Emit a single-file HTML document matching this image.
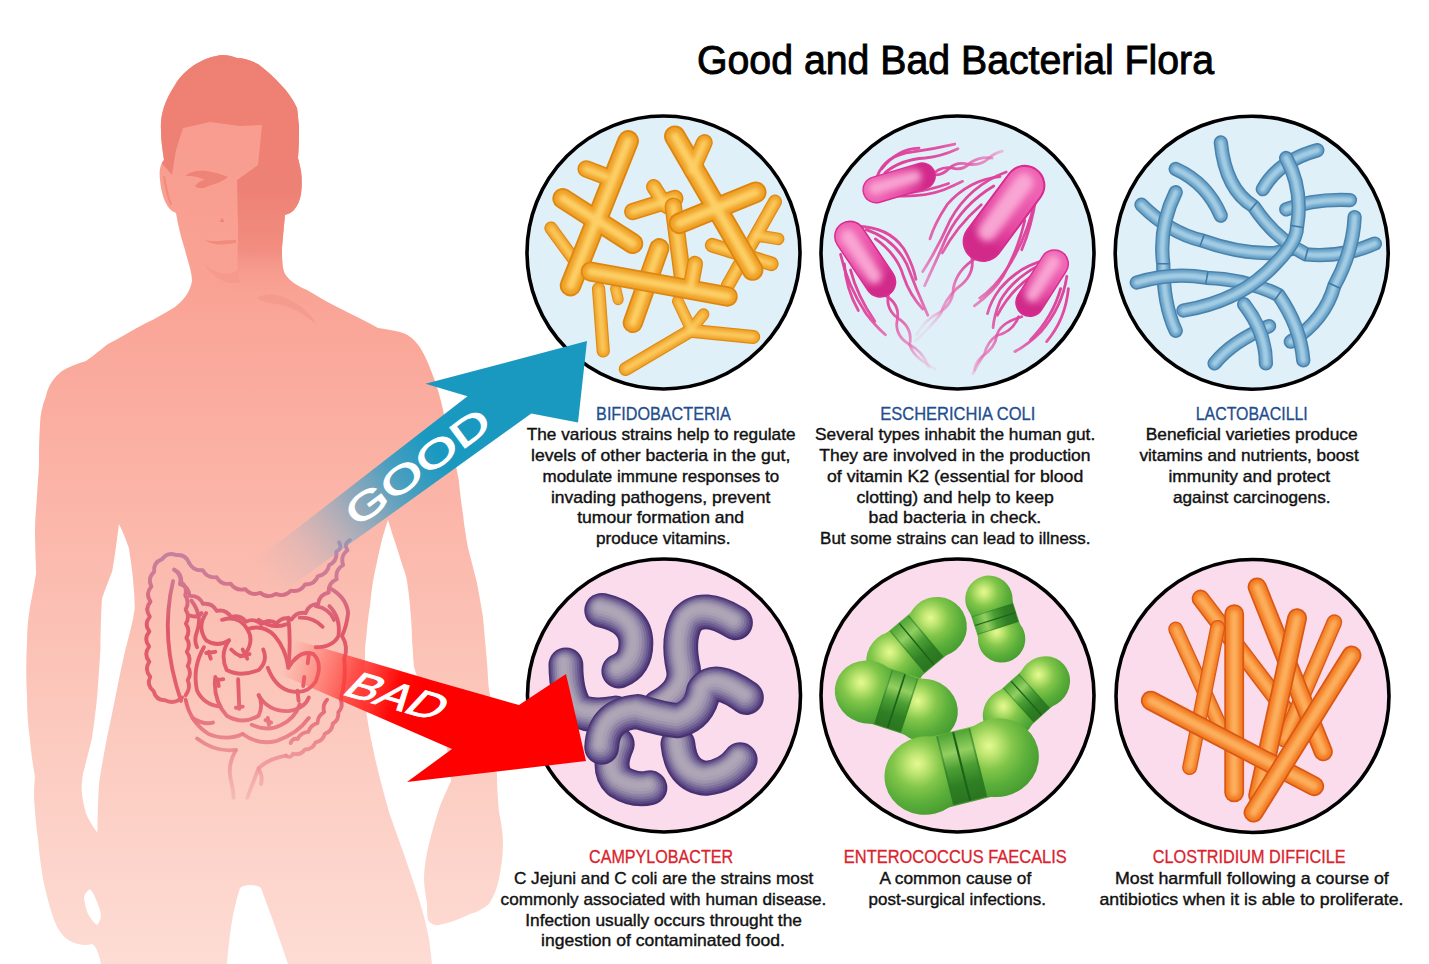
<!DOCTYPE html>
<html><head><meta charset="utf-8"><title>Good and Bad Bacterial Flora</title>
<style>
html,body{margin:0;padding:0;background:#fff;}
body{width:1429px;height:964px;overflow:hidden;font-family:"Liberation Sans",sans-serif;}
svg{display:block;}
text{font-family:"Liberation Sans",sans-serif;}
</style></head><body>
<svg width="1429" height="964" viewBox="0 0 1429 964">
<defs>

<linearGradient id="bodyg" x1="0" y1="55" x2="0" y2="964" gradientUnits="userSpaceOnUse">
 <stop offset="0" stop-color="#f79a8c"/>
 <stop offset="0.25" stop-color="#f9a294"/>
 <stop offset="0.5" stop-color="#fbb6a9"/>
 <stop offset="0.75" stop-color="#fccabf"/>
 <stop offset="1" stop-color="#fddcd4"/>
</linearGradient>
<linearGradient id="hairg" x1="0" y1="55" x2="0" y2="300" gradientUnits="userSpaceOnUse">
 <stop offset="0" stop-color="#ee7f73"/>
 <stop offset="0.55" stop-color="#ee8175"/>
 <stop offset="0.8" stop-color="#f28e81" />
 <stop offset="1" stop-color="#f9a294" stop-opacity="0"/>
</linearGradient>
<clipPath id="bodyclip"><path d=" M 223,55 C 205,56 185,68 175,85 C 165,100 160,115 161,130 C 161,142 163,152 164,160 C 160,164 159,172 160,180 C 161,192 165,206 172,211 L 176,213 C 178,225 181,238 185,250 C 188,262 192,272 192,281 C 190,292 184,300 175,307 C 165,313 155,319 146,323 C 132,330 120,338 108,344 C 100,350 92,357 86,361 C 76,364 68,367 62,371 C 54,377 48,386 46,396 C 42,406 40,416 40,425 C 39,440 39,452 39,466 C 38,480 37,495 36,510 C 35,520 35,528 35,534 C 35,548 36,562 36,574 C 34,586 32,596 30,607 C 28,618 27,630 27,642 C 26,660 26,680 27,696 C 27,712 28,726 30,740 C 31,752 33,766 35,777 C 34,786 34,792 34,798 C 35,812 36,826 38,839 C 39,853 41,866 43,879 C 46,894 50,908 54,920 C 58,930 63,937 70,941 C 78,945 86,946 92,944 C 96,946 99,954 101,964 L 227,964 C 229,940 232,912 240,888 C 244,884 257,884 261,888 C 270,912 280,940 288,964 L 432,964 C 431,955 430,946 429,939 C 427,928 424,916 421,906 C 417,892 412,878 408,866 C 402,848 395,830 389,812 C 384,794 379,776 375,758 C 372,744 369,730 367,717 C 365,700 364,680 365,656 C 365,650 365,645 366,640 C 367,628 368,617 370,606 C 371,596 372,586 374,576 C 376,566 378,557 380,548 C 382,538 385,529 388,520 C 391,530 394,539 397,548 C 400,558 403,567 406,576 C 408,586 409,596 410,606 C 411,618 412,629 412,640 C 413,650 413,659 414,667 C 424,700 436,722 446,743 C 448,756 450,768 451,781 C 447,790 443,798 440,806 C 436,818 432,831 429,844 C 426,856 424,868 424,879 C 424,888 426,896 427,904 C 427,910 427,915 428,920 C 432,926 438,926 443,924 C 452,922 462,918 470,914 C 478,912 484,908 489,904 C 494,896 497,888 499,879 C 501,868 503,856 503,844 C 503,832 501,822 499,812 C 498,800 497,788 497,777 C 496,752 494,726 491,700 C 490,695 489,690 488.4,685 C 488,674 487,662 486,651 C 485,640 484,628 483,617 C 481,605 479,594 477,583 C 474,571 471,559 468,548 C 466,537 464,525 463,514 C 461,502 460,491 458.7,480 C 456,463 451,446 447,430 C 444,412 440,396 436,384 C 434,378 432,373 430,368 C 427,360 423,352 419,346 C 414,339 408,334 400,332 C 392,330 385,329 378,328 C 368,322 357,317 347,312 C 333,305 320,298 307,290 C 298,286 290,282 285,274 C 282,268 282,258 282,248 C 283,236 284,225 285,215 C 289,214 292,212 294,210 C 298,205 300,200 301,194 C 302,186 302,178 301,171 C 300,166 299,162 298,158 C 299,147 299,136 299,126 C 298,119 298,113 297,108 C 293,99 287,91 281,85 C 274,77 266,70 258,64 C 250,60 243,58 237,58 C 232,56 227,55 223,55 Z "/></clipPath>


<linearGradient id="gutg" x1="0" y1="0" x2="0" y2="1180" gradientUnits="userSpaceOnUse">
 <stop offset="0" stop-color="#bd84a4"/>
 <stop offset="0.14" stop-color="#d07a94"/>
 <stop offset="0.32" stop-color="#e0586a"/>
 <stop offset="0.58" stop-color="#e3606e"/>
 <stop offset="0.76" stop-color="#ea868c" stop-opacity="0.92"/>
 <stop offset="1" stop-color="#f2aaa8" stop-opacity="0.4"/>
</linearGradient>

<clipPath id="cc1"><circle cx="663.5" cy="252.5" r="136.5"/></clipPath>
<clipPath id="cc2"><circle cx="957.5" cy="252.5" r="136.5"/></clipPath>
<clipPath id="cc3"><circle cx="1251.7" cy="252.7" r="136.5"/></clipPath>
<clipPath id="cc4"><circle cx="664" cy="695.5" r="136.5"/></clipPath>
<clipPath id="cc5"><circle cx="957.5" cy="695.5" r="136.5"/></clipPath>
<clipPath id="cc6"><circle cx="1252.5" cy="696" r="136.5"/></clipPath>
<filter id="bl2" filterUnits="userSpaceOnUse" x="-50" y="-50" width="1100" height="1100"><feGaussianBlur stdDeviation="2.2"/></filter>
<filter id="bl4" filterUnits="userSpaceOnUse" x="-50" y="-50" width="1100" height="1100"><feGaussianBlur stdDeviation="4"/></filter>
<filter id="bl6" filterUnits="userSpaceOnUse" x="-50" y="-50" width="1100" height="1100"><feGaussianBlur stdDeviation="6"/></filter>
<filter id="bl8" filterUnits="userSpaceOnUse" x="-50" y="-50" width="1100" height="1100"><feGaussianBlur stdDeviation="8"/></filter>
<filter id="bl12" filterUnits="userSpaceOnUse" x="-50" y="-50" width="1100" height="1100"><feGaussianBlur stdDeviation="12"/></filter>
<radialGradient id="flg0" cx="296" cy="260" r="391" gradientUnits="userSpaceOnUse"><stop offset="0" stop-color="#dd3b98"/><stop offset="0.45" stop-color="#e04a9f" stop-opacity="0.95"/><stop offset="0.8" stop-color="#e968b0" stop-opacity="0.6"/><stop offset="1" stop-color="#f08cc4" stop-opacity="0.15"/></radialGradient>
<linearGradient id="rodg0" x1="222" y1="282" x2="370" y2="238" gradientUnits="userSpaceOnUse"><stop offset="0" stop-color="#ef62b2"/><stop offset="0.6" stop-color="#e64aa3"/><stop offset="1" stop-color="#d22a8a"/></linearGradient>
<radialGradient id="flg1" cx="187" cy="505" r="409" gradientUnits="userSpaceOnUse"><stop offset="0" stop-color="#dd3b98"/><stop offset="0.45" stop-color="#e04a9f" stop-opacity="0.95"/><stop offset="0.8" stop-color="#e968b0" stop-opacity="0.6"/><stop offset="1" stop-color="#f08cc4" stop-opacity="0.15"/></radialGradient>
<linearGradient id="rodg1" x1="138" y1="432" x2="236" y2="578" gradientUnits="userSpaceOnUse"><stop offset="0" stop-color="#ef62b2"/><stop offset="0.6" stop-color="#e64aa3"/><stop offset="1" stop-color="#d22a8a"/></linearGradient>
<radialGradient id="flg2" cx="633" cy="358" r="448" gradientUnits="userSpaceOnUse"><stop offset="0" stop-color="#dd3b98"/><stop offset="0.45" stop-color="#e04a9f" stop-opacity="0.95"/><stop offset="0.8" stop-color="#e968b0" stop-opacity="0.6"/><stop offset="1" stop-color="#f08cc4" stop-opacity="0.15"/></radialGradient>
<linearGradient id="rodg2" x1="700" y1="268" x2="566" y2="448" gradientUnits="userSpaceOnUse"><stop offset="0" stop-color="#ef62b2"/><stop offset="0.6" stop-color="#e64aa3"/><stop offset="1" stop-color="#d22a8a"/></linearGradient>
<radialGradient id="flg3" cx="756" cy="582" r="391" gradientUnits="userSpaceOnUse"><stop offset="0" stop-color="#dd3b98"/><stop offset="0.45" stop-color="#e04a9f" stop-opacity="0.95"/><stop offset="0.8" stop-color="#e968b0" stop-opacity="0.6"/><stop offset="1" stop-color="#f08cc4" stop-opacity="0.15"/></radialGradient>
<linearGradient id="rodg3" x1="795" y1="520" x2="716" y2="644" gradientUnits="userSpaceOnUse"><stop offset="0" stop-color="#ef62b2"/><stop offset="0.6" stop-color="#e64aa3"/><stop offset="1" stop-color="#d22a8a"/></linearGradient>
<linearGradient id="bandA" x1="0" y1="0" x2="0" y2="1">
<stop offset="0" stop-color="#4fa436"/><stop offset="0.28" stop-color="#93cf60"/><stop offset="0.5" stop-color="#4c9f34"/><stop offset="0.75" stop-color="#2f7f24"/><stop offset="1" stop-color="#2a7520"/></linearGradient>
<linearGradient id="bandB" x1="0" y1="1" x2="0" y2="0">
<stop offset="0" stop-color="#4fa436"/><stop offset="0.28" stop-color="#93cf60"/><stop offset="0.5" stop-color="#4c9f34"/><stop offset="0.75" stop-color="#2f7f24"/><stop offset="1" stop-color="#2a7520"/></linearGradient>
<radialGradient id="eng1_0" gradientUnits="userSpaceOnUse" cx="-94.0" cy="9.0" r="110.2"><stop offset="0" stop-color="#e6f994"/><stop offset="0.14" stop-color="#c8eb78"/><stop offset="0.42" stop-color="#82c64a"/><stop offset="0.7" stop-color="#5aae3a"/><stop offset="1" stop-color="#43992e"/></radialGradient>
<radialGradient id="eng1_1" gradientUnits="userSpaceOnUse" cx="40.4" cy="9.0" r="110.2"><stop offset="0" stop-color="#e6f994"/><stop offset="0.14" stop-color="#c8eb78"/><stop offset="0.42" stop-color="#82c64a"/><stop offset="0.7" stop-color="#5aae3a"/><stop offset="1" stop-color="#43992e"/></radialGradient>
<radialGradient id="eng2_0" gradientUnits="userSpaceOnUse" cx="-83.2" cy="-35.6" r="139.2"><stop offset="0" stop-color="#e6f994"/><stop offset="0.14" stop-color="#c8eb78"/><stop offset="0.42" stop-color="#82c64a"/><stop offset="0.7" stop-color="#5aae3a"/><stop offset="1" stop-color="#43992e"/></radialGradient>
<radialGradient id="eng2_1" gradientUnits="userSpaceOnUse" cx="87.9" cy="-35.6" r="139.2"><stop offset="0" stop-color="#e6f994"/><stop offset="0.14" stop-color="#c8eb78"/><stop offset="0.42" stop-color="#82c64a"/><stop offset="0.7" stop-color="#5aae3a"/><stop offset="1" stop-color="#43992e"/></radialGradient>
<radialGradient id="eng3_0" gradientUnits="userSpaceOnUse" cx="-73.1" cy="-30.0" r="117.5"><stop offset="0" stop-color="#e6f994"/><stop offset="0.14" stop-color="#c8eb78"/><stop offset="0.42" stop-color="#82c64a"/><stop offset="0.7" stop-color="#5aae3a"/><stop offset="1" stop-color="#43992e"/></radialGradient>
<radialGradient id="eng3_1" gradientUnits="userSpaceOnUse" cx="79.2" cy="-30.0" r="117.5"><stop offset="0" stop-color="#e6f994"/><stop offset="0.14" stop-color="#c8eb78"/><stop offset="0.42" stop-color="#82c64a"/><stop offset="0.7" stop-color="#5aae3a"/><stop offset="1" stop-color="#43992e"/></radialGradient>
<radialGradient id="eng4_0" gradientUnits="userSpaceOnUse" cx="-125.9" cy="-22.0" r="146.4"><stop offset="0" stop-color="#e6f994"/><stop offset="0.14" stop-color="#c8eb78"/><stop offset="0.42" stop-color="#82c64a"/><stop offset="0.7" stop-color="#5aae3a"/><stop offset="1" stop-color="#43992e"/></radialGradient>
<radialGradient id="eng4_1" gradientUnits="userSpaceOnUse" cx="64.9" cy="-22.0" r="146.4"><stop offset="0" stop-color="#e6f994"/><stop offset="0.14" stop-color="#c8eb78"/><stop offset="0.42" stop-color="#82c64a"/><stop offset="0.7" stop-color="#5aae3a"/><stop offset="1" stop-color="#43992e"/></radialGradient>
<radialGradient id="eng5_0" gradientUnits="userSpaceOnUse" cx="-136.2" cy="-43.4" r="182.7"><stop offset="0" stop-color="#e6f994"/><stop offset="0.14" stop-color="#c8eb78"/><stop offset="0.42" stop-color="#82c64a"/><stop offset="0.7" stop-color="#5aae3a"/><stop offset="1" stop-color="#43992e"/></radialGradient>
<radialGradient id="eng5_1" gradientUnits="userSpaceOnUse" cx="100.7" cy="-43.4" r="182.7"><stop offset="0" stop-color="#e6f994"/><stop offset="0.14" stop-color="#c8eb78"/><stop offset="0.42" stop-color="#82c64a"/><stop offset="0.7" stop-color="#5aae3a"/><stop offset="1" stop-color="#43992e"/></radialGradient>

<linearGradient id="goodg" x1="252" y1="589" x2="476.6" y2="421.6" gradientUnits="userSpaceOnUse">
 <stop offset="0.06" stop-color="#9fb2c8" stop-opacity="0"/>
 <stop offset="0.23" stop-color="#8fafc9" stop-opacity="0.2"/>
 <stop offset="0.46" stop-color="#5fa3c4" stop-opacity="0.62"/>
 <stop offset="0.66" stop-color="#349cc2" stop-opacity="0.9"/>
 <stop offset="0.82" stop-color="#1a99c0" stop-opacity="1"/>
 <stop offset="1" stop-color="#1a99c0"/>
</linearGradient>
<linearGradient id="badg" x1="280" y1="655" x2="554" y2="750" gradientUnits="userSpaceOnUse">
 <stop offset="0.02" stop-color="#ff6a60" stop-opacity="0"/>
 <stop offset="0.15" stop-color="#ff5048" stop-opacity="0.5"/>
 <stop offset="0.26" stop-color="#ff3832" stop-opacity="0.82"/>
 <stop offset="0.42" stop-color="#ff0806" stop-opacity="1"/>
 <stop offset="0.5" stop-color="#ff0000"/>
 <stop offset="1" stop-color="#ff0000"/>
</linearGradient>


</defs>
<rect width="1429" height="964" fill="#fff"/>
<g id="body">
<path d=" M 223,55 C 205,56 185,68 175,85 C 165,100 160,115 161,130 C 161,142 163,152 164,160 C 160,164 159,172 160,180 C 161,192 165,206 172,211 L 176,213 C 178,225 181,238 185,250 C 188,262 192,272 192,281 C 190,292 184,300 175,307 C 165,313 155,319 146,323 C 132,330 120,338 108,344 C 100,350 92,357 86,361 C 76,364 68,367 62,371 C 54,377 48,386 46,396 C 42,406 40,416 40,425 C 39,440 39,452 39,466 C 38,480 37,495 36,510 C 35,520 35,528 35,534 C 35,548 36,562 36,574 C 34,586 32,596 30,607 C 28,618 27,630 27,642 C 26,660 26,680 27,696 C 27,712 28,726 30,740 C 31,752 33,766 35,777 C 34,786 34,792 34,798 C 35,812 36,826 38,839 C 39,853 41,866 43,879 C 46,894 50,908 54,920 C 58,930 63,937 70,941 C 78,945 86,946 92,944 C 96,946 99,954 101,964 L 227,964 C 229,940 232,912 240,888 C 244,884 257,884 261,888 C 270,912 280,940 288,964 L 432,964 C 431,955 430,946 429,939 C 427,928 424,916 421,906 C 417,892 412,878 408,866 C 402,848 395,830 389,812 C 384,794 379,776 375,758 C 372,744 369,730 367,717 C 365,700 364,680 365,656 C 365,650 365,645 366,640 C 367,628 368,617 370,606 C 371,596 372,586 374,576 C 376,566 378,557 380,548 C 382,538 385,529 388,520 C 391,530 394,539 397,548 C 400,558 403,567 406,576 C 408,586 409,596 410,606 C 411,618 412,629 412,640 C 413,650 413,659 414,667 C 424,700 436,722 446,743 C 448,756 450,768 451,781 C 447,790 443,798 440,806 C 436,818 432,831 429,844 C 426,856 424,868 424,879 C 424,888 426,896 427,904 C 427,910 427,915 428,920 C 432,926 438,926 443,924 C 452,922 462,918 470,914 C 478,912 484,908 489,904 C 494,896 497,888 499,879 C 501,868 503,856 503,844 C 503,832 501,822 499,812 C 498,800 497,788 497,777 C 496,752 494,726 491,700 C 490,695 489,690 488.4,685 C 488,674 487,662 486,651 C 485,640 484,628 483,617 C 481,605 479,594 477,583 C 474,571 471,559 468,548 C 466,537 464,525 463,514 C 461,502 460,491 458.7,480 C 456,463 451,446 447,430 C 444,412 440,396 436,384 C 434,378 432,373 430,368 C 427,360 423,352 419,346 C 414,339 408,334 400,332 C 392,330 385,329 378,328 C 368,322 357,317 347,312 C 333,305 320,298 307,290 C 298,286 290,282 285,274 C 282,268 282,258 282,248 C 283,236 284,225 285,215 C 289,214 292,212 294,210 C 298,205 300,200 301,194 C 302,186 302,178 301,171 C 300,166 299,162 298,158 C 299,147 299,136 299,126 C 298,119 298,113 297,108 C 293,99 287,91 281,85 C 274,77 266,70 258,64 C 250,60 243,58 237,58 C 232,56 227,55 223,55 Z " fill="url(#bodyg)"/>
<path d=" M 119,524 C 123,532 126,540 129,548.6 C 132,568 134.5,588 134.8,608 C 133,622 129,636 125.4,649.5 C 122,664 119,679 116,694 C 113,709 110,724 106.7,739 C 104,754 101,769 99,784 C 98,800 97.6,816 97.4,832.7 C 93,827 89,821 86.2,814 C 84,807 82.5,799 81.7,791.6 C 81.5,785 82,779 83.2,773 C 86,762 89,750 91.8,739 C 94,724 96,709 97.4,694 C 98.5,679 99.5,664 100.4,649.5 C 100.5,632 101,615 101.9,599 C 105,589 109,580 112.3,571 C 115,555 117,539 119,524 Z " fill="#fff"/>
<path d="M 90,889 C 86,892 84,895 84,898 C 85,904 86,909 88,914 C 91,919 94,923 97,925 C 100,922 101,918 101,914 C 99,906 96,899 93,893 Z" fill="#fff"/>
<g clip-path="url(#bodyclip)">
<path d="M 150,40 L 320,40 L 320,215 L 300,290 L 237,290 L 238,230 L 237,180 L 258,165 L 262,125 L 240,126 L 210,122 L 183,128 L 176,150 L 172,175 L 166,168 L 150,150 Z" fill="url(#hairg)"/>
<path d="M 185,176 C 195,168 210,170 228,177 C 222,182 215,184 208,186 C 204,189 198,189 195,186 C 198,182 202,180 205,180 C 198,176 190,176 185,176 Z" fill="#ee8377"/>
<path d="M 164,177 C 166,186 167,196 171,204" fill="none" stroke="#f08b7e" stroke-width="2" stroke-linecap="round"/>
<path d="M 220,222 C 221,218 223,216 224,222 Z" fill="#ee8377"/>
<path d="M 204,239 C 212,243 222,240 236,240 L 236,243 C 222,245 212,246 204,239 Z" fill="#f08b7e"/>
<path d="M 204,264 C 214,272 226,278 237,270 L 240,282 C 226,286 214,278 204,264 Z" fill="#f3948a" opacity="0.6"/>
<path d="M 257,298 C 270,290 285,296 300,306 C 308,312 314,318 316,324 C 308,318 298,310 286,306 C 276,303 266,304 257,298 Z" fill="#f29488" opacity="0.55"/>
</g>
</g>
<g transform="translate(140,540) scale(0.2282)" fill="none" stroke="url(#gutg)" stroke-width="17" stroke-linecap="round" stroke-linejoin="round">
<path d="M 215,100 Q 200,61 158,66 Q 121,50 97,84 Q 58,98 62,139 Q 31,167 50,204 Q 22,235 46,270 Q 19,301 43,336 Q 16,368 41,401 Q 14,434 40,467 Q 14,501 41,533 Q 17,568 45,599 Q 27,637 60,663 Q 69,703 110,702 Q 152,722 185,690"/>
<path d="M 150,130 Q 183,147 181,184 Q 209,207 198,243 Q 219,273 200,305 Q 220,335 201,367 Q 222,397 203,429 Q 224,459 205,490 Q 227,520 209,552 Q 229,583 209,614 Q 224,650 200,680"/>
<path d="M 145,180 Q 85,430 180,705"/>
<path d="M 215,100 Q 234,137 275,132 Q 295,169 336,163 Q 357,199 397,191 Q 421,225 461,215 Q 488,247 527,231 Q 559,258 595,236 Q 633,252 661,222 Q 702,230 723,195 Q 765,197 780,158 Q 821,151 829,110 Q 866,92 860,51 Q 889,37 872,10"/>
<path d="M 150,130 Q 185,153 175,193 Q 215,204 217,245 Q 259,242 276,280 Q 317,274 336,311 Q 377,302 399,338 Q 439,325 464,358 Q 501,340 531,369 Q 563,343 599,365 Q 626,333 665,348 Q 685,312 726,320 Q 739,281 781,280 Q 786,239 827,230 Q 824,188 862,172 Q 854,131 890,110 Q 877,70 909,45 Q 891,17 920,0"/>
<path d="M 880,700 Q 892,731 869,755 Q 873,788 845,805 Q 842,838 810,849 Q 802,881 769,887 Q 756,918 723,918 Q 703,945 671,937 Q 660,959 640,945"/>
<path d="M 820,700 Q 798,723 807,754 Q 779,770 778,802 Q 747,810 738,841 Q 706,843 691,872 Q 668,867 660,890"/>
<path d="M 830,210 Q 905,250 912,320 Q 905,380 885,420 Q 915,470 895,520 Q 905,600 880,700"/>
<path d="M 770,290 Q 830,300 850,350"/>
<path d="M 830,290 Q 880,340 870,420 Q 845,470 770,470"/>
<path d="M 225,265 Q 275,330 250,400 Q 235,440 250,470"/>
<path d="M 215,330 Q 250,345 270,320"/>
<path d="M 290,320 Q 248,380 290,440 Q 340,472 390,440"/>
<path d="M 360,350 Q 432,328 470,390 Q 502,440 462,500 Q 440,522 400,480"/>
<path d="M 390,440 Q 348,500 380,570 Q 440,602 520,570 Q 562,530 540,480"/>
<path d="M 470,390 Q 542,368 590,420 Q 640,480 650,560 Q 700,478 760,500 Q 802,540 770,620 Q 730,682 650,660 Q 590,640 560,560"/>
<path d="M 520,350 Q 580,392 640,370"/>
<path d="M 650,340 Q 662,450 650,560"/>
<path d="M 700,340 Q 762,338 800,380"/>
<path d="M 280,470 Q 228,560 250,660 Q 280,722 350,730"/>
<path d="M 300,490 L 310,520 M 290,495 L 330,490"/>
<path d="M 330,600 Q 318,700 380,770 Q 450,812 520,770 Q 542,720 520,680"/>
<path d="M 340,610 L 345,640 M 330,615 L 365,610"/>
<path d="M 430,610 L 435,740 M 420,735 L 450,730"/>
<path d="M 520,680 Q 560,752 650,750 Q 722,740 740,690"/>
<path d="M 690,660 L 695,705"/>
<path d="M 200,700 Q 220,800 300,850 Q 380,882 450,850"/>
<path d="M 230,780 Q 280,812 320,800"/>
<path d="M 450,850 Q 520,902 600,880 Q 690,850 740,780"/>
<path d="M 490,810 Q 560,842 620,810 Q 680,780 700,720"/>
<path d="M 550,790 L 575,800 M 560,780 L 565,810"/>
<path d="M 250,870 Q 330,932 420,920"/>
<path d="M 450,480 L 470,520 M 440,510 L 480,500"/>
<path d="M 740,500 L 735,540 M 720,600 L 715,640"/>
<path d="M 420,920 Q 380,990 400,1060 Q 410,1100 410,1130"/>
<path d="M 640,945 Q 560,960 520,1000 Q 500,1050 470,1130"/>
<path d="M 520,1000 Q 540,1040 530,1070"/>
</g>
<circle cx="663.5" cy="252.5" r="136.5" fill="#dff0f8"/>
<g clip-path="url(#cc1)"><g transform="translate(513,102) scale(0.3112)" fill="none" stroke-linecap="round" stroke-linejoin="round">
<path d="M 122,405 L 195,505" stroke="#de8710" stroke-width="42.6" />
<path d="M 122,405 L 195,505" stroke="#efa026" stroke-width="34.9" />
<path d="M 122,405 L 195,505" stroke="#fdd066" stroke-width="17.0" filter="url(#bl6)"/>
<path d="M 842,320 L 690,590" stroke="#de8710" stroke-width="44.8" />
<path d="M 780,428 L 852,440" stroke="#de8710" stroke-width="40.3" />
<path d="M 640,460 L 830,520" stroke="#de8710" stroke-width="47.0" />
<path d="M 842,320 L 690,590" stroke="#efa026" stroke-width="36.7" />
<path d="M 780,428 L 852,440" stroke="#efa026" stroke-width="33.1" />
<path d="M 640,460 L 830,520" stroke="#efa026" stroke-width="38.6" />
<path d="M 842,320 L 690,590" stroke="#fdd066" stroke-width="17.9" filter="url(#bl6)"/>
<path d="M 780,428 L 852,440" stroke="#fdd066" stroke-width="16.1" filter="url(#bl6)"/>
<path d="M 640,460 L 830,520" stroke="#fdd066" stroke-width="18.8" filter="url(#bl6)"/>
<path d="M 275,600 L 290,800" stroke="#de8710" stroke-width="42.6" />
<path d="M 330,600 L 338,635" stroke="#de8710" stroke-width="35.8" />
<path d="M 275,600 L 290,800" stroke="#efa026" stroke-width="34.9" />
<path d="M 330,600 L 338,635" stroke="#efa026" stroke-width="29.4" />
<path d="M 275,600 L 290,800" stroke="#fdd066" stroke-width="17.0" filter="url(#bl6)"/>
<path d="M 330,600 L 338,635" stroke="#fdd066" stroke-width="14.3" filter="url(#bl6)"/>
<path d="M 362,858 L 570,735 L 772,755" stroke="#de8710" stroke-width="44.8" />
<path d="M 570,735 L 612,682" stroke="#de8710" stroke-width="38.1" />
<path d="M 530,640 L 570,725" stroke="#de8710" stroke-width="38.1" />
<path d="M 362,858 L 570,735 L 772,755" stroke="#efa026" stroke-width="36.7" />
<path d="M 570,735 L 612,682" stroke="#efa026" stroke-width="31.2" />
<path d="M 530,640 L 570,725" stroke="#efa026" stroke-width="31.2" />
<path d="M 362,858 L 570,735 L 772,755" stroke="#fdd066" stroke-width="17.9" filter="url(#bl6)"/>
<path d="M 570,735 L 612,682" stroke="#fdd066" stroke-width="15.2" filter="url(#bl6)"/>
<path d="M 530,640 L 570,725" stroke="#fdd066" stroke-width="15.2" filter="url(#bl6)"/>
<path d="M 385,352 L 520,310" stroke="#de8710" stroke-width="56.0" />
<path d="M 452,272 L 492,335" stroke="#de8710" stroke-width="49.3" />
<path d="M 385,352 L 520,310" stroke="#efa026" stroke-width="45.9" />
<path d="M 452,272 L 492,335" stroke="#efa026" stroke-width="40.4" />
<path d="M 385,352 L 520,310" stroke="#fdd066" stroke-width="22.4" filter="url(#bl6)"/>
<path d="M 452,272 L 492,335" stroke="#fdd066" stroke-width="19.7" filter="url(#bl6)"/>
<path d="M 515,335 L 545,565" stroke="#de8710" stroke-width="56.0" />
<path d="M 515,335 L 545,565" stroke="#efa026" stroke-width="45.9" />
<path d="M 515,335 L 545,565" stroke="#fdd066" stroke-width="22.4" filter="url(#bl6)"/>
<path d="M 370,125 L 185,590" stroke="#de8710" stroke-width="69.4" />
<path d="M 160,310 L 385,455" stroke="#de8710" stroke-width="67.2" />
<path d="M 235,215 L 300,240" stroke="#de8710" stroke-width="56.0" />
<path d="M 370,125 L 185,590" stroke="#efa026" stroke-width="56.9" />
<path d="M 160,310 L 385,455" stroke="#efa026" stroke-width="55.1" />
<path d="M 235,215 L 300,240" stroke="#efa026" stroke-width="45.9" />
<path d="M 370,125 L 185,590" stroke="#fdd066" stroke-width="27.8" filter="url(#bl6)"/>
<path d="M 160,310 L 385,455" stroke="#fdd066" stroke-width="26.9" filter="url(#bl6)"/>
<path d="M 235,215 L 300,240" stroke="#fdd066" stroke-width="22.4" filter="url(#bl6)"/>
<path d="M 470,470 L 385,710" stroke="#de8710" stroke-width="65.0" />
<path d="M 470,470 L 385,710" stroke="#efa026" stroke-width="53.3" />
<path d="M 470,470 L 385,710" stroke="#fdd066" stroke-width="26.0" filter="url(#bl6)"/>
<path d="M 520,110 L 770,540" stroke="#de8710" stroke-width="69.4" />
<path d="M 535,390 L 780,290" stroke="#de8710" stroke-width="69.4" />
<path d="M 615,130 L 575,220" stroke="#de8710" stroke-width="53.8" />
<path d="M 520,110 L 770,540" stroke="#efa026" stroke-width="56.9" />
<path d="M 535,390 L 780,290" stroke="#efa026" stroke-width="56.9" />
<path d="M 615,130 L 575,220" stroke="#efa026" stroke-width="44.1" />
<path d="M 520,110 L 770,540" stroke="#fdd066" stroke-width="27.8" filter="url(#bl6)"/>
<path d="M 535,390 L 780,290" stroke="#fdd066" stroke-width="27.8" filter="url(#bl6)"/>
<path d="M 615,130 L 575,220" stroke="#fdd066" stroke-width="21.5" filter="url(#bl6)"/>
<path d="M 250,545 L 690,625" stroke="#de8710" stroke-width="65.0" />
<path d="M 585,520 L 570,600" stroke="#de8710" stroke-width="51.5" />
<path d="M 250,545 L 690,625" stroke="#efa026" stroke-width="53.3" />
<path d="M 585,520 L 570,600" stroke="#efa026" stroke-width="42.2" />
<path d="M 250,545 L 690,625" stroke="#fdd066" stroke-width="26.0" filter="url(#bl6)"/>
<path d="M 585,520 L 570,600" stroke="#fdd066" stroke-width="20.6" filter="url(#bl6)"/>
</g></g>
<circle cx="663.5" cy="252.5" r="136.5" fill="none" stroke="#000" stroke-width="3.6"/>
<circle cx="957.5" cy="252.5" r="136.5" fill="#dff0f8"/>
<g clip-path="url(#cc2)"><g transform="translate(807,102) scale(0.3112)" fill="none" stroke-linecap="round" stroke-linejoin="round">
<path d="M 225,240 Q 250,170 340,160 Q 410,150 475,135" stroke="url(#flg0)" stroke-width="9"/>
<path d="M 250,228 Q 300,185 380,180 Q 430,175 485,150" stroke="url(#flg0)" stroke-width="9"/>
<path d="M 290,302 Q 380,305 440,282 Q 470,270 500,255" stroke="url(#flg0)" stroke-width="9"/>
<path d="M 330,292 Q 400,282 455,262" stroke="url(#flg0)" stroke-width="9"/>
<path d="M 240,215 Q 290,150 360,148" stroke="url(#flg0)" stroke-width="9"/>
<path d="M 395,232 Q 430,240 455,215 Q 480,190 520,200 Q 560,205 585,180 Q 600,165 628,158" stroke="url(#flg0)" stroke-width="9"/>
<path d="M 395,242 Q 425,205 465,212 Q 500,222 525,195 Q 555,175 595,180" stroke="url(#flg0)" stroke-width="9"/>
<path d="M 190,410 Q 280,440 320,520 Q 350,600 388,685" stroke="url(#flg1)" stroke-width="9"/>
<path d="M 220,440 Q 290,490 310,560 Q 330,620 372,665" stroke="url(#flg1)" stroke-width="9"/>
<path d="M 108,490 Q 130,590 190,680 Q 220,720 252,748" stroke="url(#flg1)" stroke-width="9"/>
<path d="M 140,540 Q 160,620 218,705" stroke="url(#flg1)" stroke-width="9"/>
<path d="M 160,400 Q 260,400 310,470 Q 340,520 350,570" stroke="url(#flg1)" stroke-width="9"/>
<path d="M 120,520 Q 125,600 165,670" stroke="url(#flg1)" stroke-width="9"/>
<path d="M 250,620 Q 300,650 290,700 Q 280,750 330,780 Q 370,800 392,852" stroke="url(#flg1)" stroke-width="9"/>
<path d="M 262,615 Q 250,670 300,700 Q 340,730 330,780 Q 340,820 412,858" stroke="url(#flg1)" stroke-width="9"/>
<path d="M 640,225 Q 520,270 460,380 Q 420,470 372,545" stroke="url(#flg2)" stroke-width="9"/>
<path d="M 600,270 Q 500,330 450,430 Q 420,500 378,590" stroke="url(#flg2)" stroke-width="9"/>
<path d="M 560,330 Q 480,400 435,485" stroke="url(#flg2)" stroke-width="9"/>
<path d="M 730,330 Q 700,450 640,540 Q 600,600 555,630" stroke="url(#flg2)" stroke-width="9"/>
<path d="M 700,380 Q 680,470 630,560 Q 600,610 538,655" stroke="url(#flg2)" stroke-width="9"/>
<path d="M 737,300 Q 722,400 690,475" stroke="url(#flg2)" stroke-width="9"/>
<path d="M 620,240 Q 520,250 450,330 Q 410,390 395,440" stroke="url(#flg2)" stroke-width="9"/>
<path d="M 530,500 Q 540,560 480,600 Q 440,640 430,680 Q 400,720 348,768" stroke="url(#flg2)" stroke-width="9"/>
<path d="M 545,500 Q 480,540 470,600 Q 470,650 420,680 Q 380,700 352,748" stroke="url(#flg2)" stroke-width="9"/>
<path d="M 745,525 Q 660,570 620,640 Q 600,690 598,725" stroke="url(#flg3)" stroke-width="9"/>
<path d="M 720,560 Q 650,610 612,685" stroke="url(#flg3)" stroke-width="9"/>
<path d="M 835,560 Q 820,660 750,740 Q 710,780 668,802" stroke="url(#flg3)" stroke-width="9"/>
<path d="M 815,600 Q 790,690 718,765" stroke="url(#flg3)" stroke-width="9"/>
<path d="M 760,510 Q 680,530 620,600 Q 590,640 580,680" stroke="url(#flg3)" stroke-width="9"/>
<path d="M 840,600 Q 830,700 770,770" stroke="url(#flg3)" stroke-width="9"/>
<path d="M 680,690 Q 660,740 610,750 Q 580,770 570,810 Q 550,840 533,873" stroke="url(#flg3)" stroke-width="9"/>
<path d="M 690,690 Q 620,710 610,750 Q 605,790 560,820 Q 540,840 538,862" stroke="url(#flg3)" stroke-width="9"/>
<path d="M 222.0,282.0 L 370.0,238.0" stroke="#d82c90" stroke-width="88.0"/>
<path d="M 222.0,282.0 L 370.0,238.0" stroke="url(#rodg0)" stroke-width="79.2"/>
<path d="M 216.3,278.2 L 347.4,239.2" stroke="#f9aad6" stroke-width="40.5" filter="url(#bl12)" opacity="0.95"/>
<path d="M 138.0,432.0 L 236.0,578.0" stroke="#d82c90" stroke-width="102.0"/>
<path d="M 138.0,432.0 L 236.0,578.0" stroke="url(#rodg1)" stroke-width="91.8"/>
<path d="M 130.1,431.2 L 216.7,560.2" stroke="#f9aad6" stroke-width="46.9" filter="url(#bl12)" opacity="0.95"/>
<path d="M 700.0,268.0 L 566.0,448.0" stroke="#d82c90" stroke-width="132.0"/>
<path d="M 700.0,268.0 L 566.0,448.0" stroke="url(#rodg2)" stroke-width="118.8"/>
<path d="M 697.6,258.0 L 579.4,416.8" stroke="#f9aad6" stroke-width="60.7" filter="url(#bl12)" opacity="0.95"/>
<path d="M 795.0,520.0 L 716.0,644.0" stroke="#d82c90" stroke-width="94.0"/>
<path d="M 795.0,520.0 L 716.0,644.0" stroke="url(#rodg3)" stroke-width="84.6"/>
<path d="M 792.8,513.0 L 723.9,621.2" stroke="#f9aad6" stroke-width="43.2" filter="url(#bl12)" opacity="0.95"/>
</g></g>
<circle cx="957.5" cy="252.5" r="136.5" fill="none" stroke="#000" stroke-width="3.6"/>
<circle cx="1251.7" cy="252.7" r="136.5" fill="#dff0f8"/>
<g clip-path="url(#cc3)"><g transform="translate(1101,102) scale(0.3112)" fill="none" stroke-linecap="round" stroke-linejoin="round">
<path d="M 130,330 Q 220,420 325,445 Q 450,490 560,485 L 620,470" stroke="#4982ad" stroke-width="46.0" />
<path d="M 130,330 Q 220,420 325,445 Q 450,490 560,485 L 620,470" stroke="#6ba3c8" stroke-width="35.9" />
<path d="M 130,330 Q 220,420 325,445 Q 450,490 560,485 L 620,470" stroke="#a2cce3" stroke-width="18.4" filter="url(#bl4)"/>
<path d="M 240,215 Q 340,260 385,365" stroke="#4982ad" stroke-width="46.0" />
<path d="M 240,215 Q 340,260 385,365" stroke="#6ba3c8" stroke-width="35.9" />
<path d="M 240,215 Q 340,260 385,365" stroke="#a2cce3" stroke-width="18.4" filter="url(#bl4)"/>
<path d="M 240,290 Q 185,400 200,520 Q 200,650 240,735" stroke="#4982ad" stroke-width="46.0" />
<path d="M 240,290 Q 185,400 200,520 Q 200,650 240,735" stroke="#6ba3c8" stroke-width="35.9" />
<path d="M 240,290 Q 185,400 200,520 Q 200,650 240,735" stroke="#a2cce3" stroke-width="18.4" filter="url(#bl4)"/>
<path d="M 385,130 Q 400,280 490,335 Q 560,440 660,490 Q 780,500 880,455" stroke="#4982ad" stroke-width="46.0" />
<path d="M 385,130 Q 400,280 490,335 Q 560,440 660,490 Q 780,500 880,455" stroke="#6ba3c8" stroke-width="35.9" />
<path d="M 385,130 Q 400,280 490,335 Q 560,440 660,490 Q 780,500 880,455" stroke="#a2cce3" stroke-width="18.4" filter="url(#bl4)"/>
<path d="M 695,155 Q 570,190 520,280" stroke="#4982ad" stroke-width="46.0" />
<path d="M 695,155 Q 570,190 520,280" stroke="#6ba3c8" stroke-width="35.9" />
<path d="M 695,155 Q 570,190 520,280" stroke="#a2cce3" stroke-width="18.4" filter="url(#bl4)"/>
<path d="M 800,315 Q 680,310 595,345" stroke="#4982ad" stroke-width="46.0" />
<path d="M 800,315 Q 680,310 595,345" stroke="#6ba3c8" stroke-width="35.9" />
<path d="M 800,315 Q 680,310 595,345" stroke="#a2cce3" stroke-width="18.4" filter="url(#bl4)"/>
<path d="M 815,370 Q 810,480 750,590 Q 720,700 610,770" stroke="#4982ad" stroke-width="46.0" />
<path d="M 815,370 Q 810,480 750,590 Q 720,700 610,770" stroke="#6ba3c8" stroke-width="35.9" />
<path d="M 815,370 Q 810,480 750,590 Q 720,700 610,770" stroke="#a2cce3" stroke-width="18.4" filter="url(#bl4)"/>
<path d="M 365,840 Q 420,770 540,720" stroke="#4982ad" stroke-width="46.0" />
<path d="M 365,840 Q 420,770 540,720" stroke="#6ba3c8" stroke-width="35.9" />
<path d="M 365,840 Q 420,770 540,720" stroke="#a2cce3" stroke-width="18.4" filter="url(#bl4)"/>
<path d="M 460,650 Q 530,740 530,840" stroke="#4982ad" stroke-width="46.0" />
<path d="M 460,650 Q 530,740 530,840" stroke="#6ba3c8" stroke-width="35.9" />
<path d="M 460,650 Q 530,740 530,840" stroke="#a2cce3" stroke-width="18.4" filter="url(#bl4)"/>
<path d="M 115,580 Q 230,545 340,565 Q 470,570 570,620 Q 640,720 650,830" stroke="#4982ad" stroke-width="46.0" />
<path d="M 115,580 Q 230,545 340,565 Q 470,570 570,620 Q 640,720 650,830" stroke="#6ba3c8" stroke-width="35.9" />
<path d="M 115,580 Q 230,545 340,565 Q 470,570 570,620 Q 640,720 650,830" stroke="#a2cce3" stroke-width="18.4" filter="url(#bl4)"/>
<path d="M 265,670 Q 450,640 560,520 Q 630,450 630,400 Q 650,280 595,180" stroke="#4982ad" stroke-width="46.0" />
<path d="M 265,670 Q 450,640 560,520 Q 630,450 630,400 Q 650,280 595,180" stroke="#6ba3c8" stroke-width="35.9" />
<path d="M 265,670 Q 450,640 560,520 Q 630,450 630,400 Q 650,280 595,180" stroke="#a2cce3" stroke-width="18.4" filter="url(#bl4)"/>
<line x1="-20" y1="0" x2="20" y2="0" transform="translate(490,335) rotate(-50)" stroke="#3f79a5" stroke-width="5" stroke-linecap="butt"/>
<line x1="-20" y1="0" x2="20" y2="0" transform="translate(660,490) rotate(-75)" stroke="#3f79a5" stroke-width="5" stroke-linecap="butt"/>
<line x1="-20" y1="0" x2="20" y2="0" transform="translate(325,445) rotate(-70)" stroke="#3f79a5" stroke-width="5" stroke-linecap="butt"/>
<line x1="-20" y1="0" x2="20" y2="0" transform="translate(200,520) rotate(0)" stroke="#3f79a5" stroke-width="5" stroke-linecap="butt"/>
<line x1="-20" y1="0" x2="20" y2="0" transform="translate(340,565) rotate(-80)" stroke="#3f79a5" stroke-width="5" stroke-linecap="butt"/>
<line x1="-20" y1="0" x2="20" y2="0" transform="translate(570,620) rotate(-55)" stroke="#3f79a5" stroke-width="5" stroke-linecap="butt"/>
<line x1="-20" y1="0" x2="20" y2="0" transform="translate(630,400) rotate(10)" stroke="#3f79a5" stroke-width="5" stroke-linecap="butt"/>
<line x1="-20" y1="0" x2="20" y2="0" transform="translate(750,590) rotate(25)" stroke="#3f79a5" stroke-width="5" stroke-linecap="butt"/>
</g></g>
<circle cx="1251.7" cy="252.7" r="136.5" fill="none" stroke="#000" stroke-width="3.6"/>
<circle cx="664" cy="695.5" r="136.5" fill="#fbdcec"/>
<g clip-path="url(#cc4)"><g transform="translate(513,545) scale(0.3112)" fill="none" stroke-linecap="round" stroke-linejoin="round">
<path d="M 170,385 Q 170,480 205,530 Q 250,555 330,540" stroke="#473170" stroke-width="112.0" transform="translate(0.0,0.0)" />
<path d="M 170,385 Q 170,480 205,530 Q 250,555 330,540" stroke="#584582" stroke-width="100.8" transform="translate(-1.1,-1.5)" />
<path d="M 170,385 Q 170,480 205,530 Q 250,555 330,540" stroke="#6b5a90" stroke-width="89.6" transform="translate(-2.2,-3.0)" />
<path d="M 170,385 Q 170,480 205,530 Q 250,555 330,540" stroke="#7d6f9b" stroke-width="77.3" transform="translate(-3.3,-4.5)" />
<path d="M 170,385 Q 170,480 205,530 Q 250,555 330,540" stroke="#8f83a5" stroke-width="63.8" transform="translate(-4.4,-6.0)" />
<path d="M 170,385 Q 170,480 205,530 Q 250,555 330,540" stroke="#9e94ad" stroke-width="49.3" transform="translate(-5.5,-7.5)" />
<path d="M 170,385 Q 170,480 205,530 Q 250,555 330,540" stroke="#a9a0b3" stroke-width="33.6" transform="translate(-6.6,-9.0)" />
<path d="M 170,385 Q 170,480 205,530 Q 250,555 330,540" stroke="#aea6b6" stroke-width="16.8" transform="translate(-7.7,-10.5)" />
<path d="M 285,210 Q 395,235 395,315 Q 395,385 340,405" stroke="#473170" stroke-width="112.0" transform="translate(0.0,0.0)" />
<path d="M 285,210 Q 395,235 395,315 Q 395,385 340,405" stroke="#584582" stroke-width="100.8" transform="translate(-1.1,-1.5)" />
<path d="M 285,210 Q 395,235 395,315 Q 395,385 340,405" stroke="#6b5a90" stroke-width="89.6" transform="translate(-2.2,-3.0)" />
<path d="M 285,210 Q 395,235 395,315 Q 395,385 340,405" stroke="#7d6f9b" stroke-width="77.3" transform="translate(-3.3,-4.5)" />
<path d="M 285,210 Q 395,235 395,315 Q 395,385 340,405" stroke="#8f83a5" stroke-width="63.8" transform="translate(-4.4,-6.0)" />
<path d="M 285,210 Q 395,235 395,315 Q 395,385 340,405" stroke="#9e94ad" stroke-width="49.3" transform="translate(-5.5,-7.5)" />
<path d="M 285,210 Q 395,235 395,315 Q 395,385 340,405" stroke="#a9a0b3" stroke-width="33.6" transform="translate(-6.6,-9.0)" />
<path d="M 285,210 Q 395,235 395,315 Q 395,385 340,405" stroke="#aea6b6" stroke-width="16.8" transform="translate(-7.7,-10.5)" />
<path d="M 715,250 Q 610,185 560,240 Q 525,300 548,400 Q 560,470 470,520" stroke="#473170" stroke-width="112.0" transform="translate(0.0,0.0)" />
<path d="M 715,250 Q 610,185 560,240 Q 525,300 548,400 Q 560,470 470,520" stroke="#584582" stroke-width="100.8" transform="translate(-1.1,-1.5)" />
<path d="M 715,250 Q 610,185 560,240 Q 525,300 548,400 Q 560,470 470,520" stroke="#6b5a90" stroke-width="89.6" transform="translate(-2.2,-3.0)" />
<path d="M 715,250 Q 610,185 560,240 Q 525,300 548,400 Q 560,470 470,520" stroke="#7d6f9b" stroke-width="77.3" transform="translate(-3.3,-4.5)" />
<path d="M 715,250 Q 610,185 560,240 Q 525,300 548,400 Q 560,470 470,520" stroke="#8f83a5" stroke-width="63.8" transform="translate(-4.4,-6.0)" />
<path d="M 715,250 Q 610,185 560,240 Q 525,300 548,400 Q 560,470 470,520" stroke="#9e94ad" stroke-width="49.3" transform="translate(-5.5,-7.5)" />
<path d="M 715,250 Q 610,185 560,240 Q 525,300 548,400 Q 560,470 470,520" stroke="#a9a0b3" stroke-width="33.6" transform="translate(-6.6,-9.0)" />
<path d="M 715,250 Q 610,185 560,240 Q 525,300 548,400 Q 560,470 470,520" stroke="#aea6b6" stroke-width="16.8" transform="translate(-7.7,-10.5)" />
<path d="M 335,640 Q 300,720 340,760 Q 390,792 440,780" stroke="#473170" stroke-width="112.0" transform="translate(0.0,0.0)" />
<path d="M 335,640 Q 300,720 340,760 Q 390,792 440,780" stroke="#584582" stroke-width="100.8" transform="translate(-1.1,-1.5)" />
<path d="M 335,640 Q 300,720 340,760 Q 390,792 440,780" stroke="#6b5a90" stroke-width="89.6" transform="translate(-2.2,-3.0)" />
<path d="M 335,640 Q 300,720 340,760 Q 390,792 440,780" stroke="#7d6f9b" stroke-width="77.3" transform="translate(-3.3,-4.5)" />
<path d="M 335,640 Q 300,720 340,760 Q 390,792 440,780" stroke="#8f83a5" stroke-width="63.8" transform="translate(-4.4,-6.0)" />
<path d="M 335,640 Q 300,720 340,760 Q 390,792 440,780" stroke="#9e94ad" stroke-width="49.3" transform="translate(-5.5,-7.5)" />
<path d="M 335,640 Q 300,720 340,760 Q 390,792 440,780" stroke="#a9a0b3" stroke-width="33.6" transform="translate(-6.6,-9.0)" />
<path d="M 335,640 Q 300,720 340,760 Q 390,792 440,780" stroke="#aea6b6" stroke-width="16.8" transform="translate(-7.7,-10.5)" />
<path d="M 530,640 Q 540,742 620,750 Q 692,742 730,690" stroke="#473170" stroke-width="112.0" transform="translate(0.0,0.0)" />
<path d="M 530,640 Q 540,742 620,750 Q 692,742 730,690" stroke="#584582" stroke-width="100.8" transform="translate(-1.1,-1.5)" />
<path d="M 530,640 Q 540,742 620,750 Q 692,742 730,690" stroke="#6b5a90" stroke-width="89.6" transform="translate(-2.2,-3.0)" />
<path d="M 530,640 Q 540,742 620,750 Q 692,742 730,690" stroke="#7d6f9b" stroke-width="77.3" transform="translate(-3.3,-4.5)" />
<path d="M 530,640 Q 540,742 620,750 Q 692,742 730,690" stroke="#8f83a5" stroke-width="63.8" transform="translate(-4.4,-6.0)" />
<path d="M 530,640 Q 540,742 620,750 Q 692,742 730,690" stroke="#9e94ad" stroke-width="49.3" transform="translate(-5.5,-7.5)" />
<path d="M 530,640 Q 540,742 620,750 Q 692,742 730,690" stroke="#a9a0b3" stroke-width="33.6" transform="translate(-6.6,-9.0)" />
<path d="M 530,640 Q 540,742 620,750 Q 692,742 730,690" stroke="#aea6b6" stroke-width="16.8" transform="translate(-7.7,-10.5)" />
<path d="M 285,650 Q 290,545 400,535 Q 480,560 530,565 Q 600,545 612,470 Q 645,415 750,490" stroke="#473170" stroke-width="112.0" transform="translate(0.0,0.0)" />
<path d="M 285,650 Q 290,545 400,535 Q 480,560 530,565 Q 600,545 612,470 Q 645,415 750,490" stroke="#584582" stroke-width="100.8" transform="translate(-1.1,-1.5)" />
<path d="M 285,650 Q 290,545 400,535 Q 480,560 530,565 Q 600,545 612,470 Q 645,415 750,490" stroke="#6b5a90" stroke-width="89.6" transform="translate(-2.2,-3.0)" />
<path d="M 285,650 Q 290,545 400,535 Q 480,560 530,565 Q 600,545 612,470 Q 645,415 750,490" stroke="#7d6f9b" stroke-width="77.3" transform="translate(-3.3,-4.5)" />
<path d="M 285,650 Q 290,545 400,535 Q 480,560 530,565 Q 600,545 612,470 Q 645,415 750,490" stroke="#8f83a5" stroke-width="63.8" transform="translate(-4.4,-6.0)" />
<path d="M 285,650 Q 290,545 400,535 Q 480,560 530,565 Q 600,545 612,470 Q 645,415 750,490" stroke="#9e94ad" stroke-width="49.3" transform="translate(-5.5,-7.5)" />
<path d="M 285,650 Q 290,545 400,535 Q 480,560 530,565 Q 600,545 612,470 Q 645,415 750,490" stroke="#a9a0b3" stroke-width="33.6" transform="translate(-6.6,-9.0)" />
<path d="M 285,650 Q 290,545 400,535 Q 480,560 530,565 Q 600,545 612,470 Q 645,415 750,490" stroke="#aea6b6" stroke-width="16.8" transform="translate(-7.7,-10.5)" />
</g></g>
<circle cx="664" cy="695.5" r="136.5" fill="none" stroke="#000" stroke-width="3.6"/>
<circle cx="957.5" cy="695.5" r="136.5" fill="#fbdcec"/>
<g clip-path="url(#cc5)"><g transform="translate(807,545) scale(0.3112)">
<g transform="translate(605.0,238.0) rotate(72.3)"><ellipse cx="-67.2" cy="0" rx="75.8" ry="76.0" fill="url(#eng1_0)"/><rect x="-67.2" y="-70.7" width="67.2" height="141.4" fill="url(#eng1_0)"/><ellipse cx="67.2" cy="0" rx="75.8" ry="76.0" fill="url(#eng1_1)"/><rect x="0.0" y="-70.7" width="67.2" height="141.4" fill="url(#eng1_1)"/><rect x="-31.0" y="-68.4" width="62.0" height="136.8" fill="url(#bandB)"/><rect x="-1.9" y="-68.4" width="3.7" height="136.8" fill="#1c6318"/><rect x="-31.0" y="-68.4" width="3.1" height="136.8" fill="#2c7a22" opacity="0.55"/><rect x="27.9" y="-68.4" width="3.1" height="136.8" fill="#2c7a22" opacity="0.55"/></g>
<g transform="translate(352.0,318.0) rotate(-40.0)"><ellipse cx="-85.5" cy="0" rx="96.5" ry="96.0" fill="url(#eng2_0)"/><rect x="-85.5" y="-89.3" width="85.5" height="178.6" fill="url(#eng2_0)"/><ellipse cx="85.5" cy="0" rx="96.5" ry="96.0" fill="url(#eng2_1)"/><rect x="0.0" y="-89.3" width="85.5" height="178.6" fill="url(#eng2_1)"/><rect x="-40.0" y="-86.4" width="80.0" height="172.8" fill="url(#bandA)"/><rect x="-2.4" y="-86.4" width="4.8" height="172.8" fill="#1c6318"/><rect x="-40.0" y="-86.4" width="4.0" height="172.8" fill="#2c7a22" opacity="0.55"/><rect x="36.0" y="-86.4" width="4.0" height="172.8" fill="#2c7a22" opacity="0.55"/></g>
<g transform="translate(705.0,492.0) rotate(-42.0)"><ellipse cx="-76.1" cy="0" rx="85.9" ry="81.0" fill="url(#eng3_0)"/><rect x="-76.1" y="-75.3" width="76.1" height="150.7" fill="url(#eng3_0)"/><ellipse cx="76.1" cy="0" rx="85.9" ry="81.0" fill="url(#eng3_1)"/><rect x="0.0" y="-75.3" width="76.1" height="150.7" fill="url(#eng3_1)"/><rect x="-35.0" y="-72.9" width="70.0" height="145.8" fill="url(#bandA)"/><rect x="-2.1" y="-72.9" width="4.2" height="145.8" fill="#1c6318"/><rect x="-35.0" y="-72.9" width="3.5" height="145.8" fill="#2c7a22" opacity="0.55"/><rect x="31.5" y="-72.9" width="3.5" height="145.8" fill="#2c7a22" opacity="0.55"/></g>
<g transform="translate(287.0,502.0) rotate(18.0)"><ellipse cx="-95.4" cy="0" rx="107.6" ry="101.0" fill="url(#eng4_0)"/><rect x="-95.4" y="-93.9" width="95.4" height="187.9" fill="url(#eng4_0)"/><ellipse cx="95.4" cy="0" rx="107.6" ry="101.0" fill="url(#eng4_1)"/><rect x="0.0" y="-93.9" width="95.4" height="187.9" fill="url(#eng4_1)"/><rect x="-45.0" y="-90.9" width="90.0" height="181.8" fill="url(#bandA)"/><rect x="-2.7" y="-90.9" width="5.4" height="181.8" fill="#1c6318"/><rect x="-45.0" y="-90.9" width="4.5" height="181.8" fill="#2c7a22" opacity="0.55"/><rect x="40.5" y="-90.9" width="4.5" height="181.8" fill="#2c7a22" opacity="0.55"/></g>
<g transform="translate(497.0,712.0) rotate(-14.0)"><ellipse cx="-118.4" cy="0" rx="133.6" ry="126.0" fill="url(#eng5_0)"/><rect x="-118.4" y="-117.2" width="118.4" height="234.4" fill="url(#eng5_0)"/><ellipse cx="118.4" cy="0" rx="133.6" ry="126.0" fill="url(#eng5_1)"/><rect x="0.0" y="-117.2" width="118.4" height="234.4" fill="url(#eng5_1)"/><rect x="-56.0" y="-113.4" width="112.0" height="226.8" fill="url(#bandA)"/><rect x="-3.4" y="-113.4" width="6.7" height="226.8" fill="#1c6318"/><rect x="-56.0" y="-113.4" width="5.6" height="226.8" fill="#2c7a22" opacity="0.55"/><rect x="50.4" y="-113.4" width="5.6" height="226.8" fill="#2c7a22" opacity="0.55"/></g>
</g></g>
<circle cx="957.5" cy="695.5" r="136.5" fill="none" stroke="#000" stroke-width="3.6"/>
<circle cx="1252.5" cy="696" r="136.5" fill="#fbdcec"/>
<g clip-path="url(#cc6)"><g transform="translate(1101,545) scale(0.3112)" fill="none" stroke-linecap="round" stroke-linejoin="round">
<path d="M 240,270 L 400,620" stroke="#da5614" stroke-width="48.4" />
<path d="M 240,270 L 400,620" stroke="#f27a20" stroke-width="39.7" />
<path d="M 240,270 L 400,620" stroke="#fdb05e" stroke-width="21.3" filter="url(#bl6)"/>
<path d="M 320,172 L 600,540" stroke="#da5614" stroke-width="57.2" />
<path d="M 320,172 L 600,540" stroke="#f27a20" stroke-width="46.9" />
<path d="M 320,172 L 600,540" stroke="#fdb05e" stroke-width="25.2" filter="url(#bl6)"/>
<path d="M 750,248 L 588,625" stroke="#da5614" stroke-width="50.6" />
<path d="M 750,248 L 588,625" stroke="#f27a20" stroke-width="41.5" />
<path d="M 750,248 L 588,625" stroke="#fdb05e" stroke-width="22.3" filter="url(#bl6)"/>
<path d="M 502,135 L 714,664" stroke="#da5614" stroke-width="61.6" />
<path d="M 502,135 L 714,664" stroke="#f27a20" stroke-width="50.5" />
<path d="M 502,135 L 714,664" stroke="#fdb05e" stroke-width="27.1" filter="url(#bl6)"/>
<path d="M 375,265 L 285,715" stroke="#da5614" stroke-width="48.4" />
<path d="M 375,265 L 285,715" stroke="#f27a20" stroke-width="39.7" />
<path d="M 375,265 L 285,715" stroke="#fdb05e" stroke-width="21.3" filter="url(#bl6)"/>
<path d="M 428,222 L 428,795" stroke="#da5614" stroke-width="63.8" />
<path d="M 428,222 L 428,795" stroke="#f27a20" stroke-width="52.3" />
<path d="M 428,222 L 428,795" stroke="#fdb05e" stroke-width="28.1" filter="url(#bl6)"/>
<path d="M 630,235 L 505,805" stroke="#da5614" stroke-width="63.8" />
<path d="M 630,235 L 505,805" stroke="#f27a20" stroke-width="52.3" />
<path d="M 630,235 L 505,805" stroke="#fdb05e" stroke-width="28.1" filter="url(#bl6)"/>
<path d="M 160,500 L 685,775" stroke="#da5614" stroke-width="63.8" />
<path d="M 160,500 L 685,775" stroke="#f27a20" stroke-width="52.3" />
<path d="M 160,500 L 685,775" stroke="#fdb05e" stroke-width="28.1" filter="url(#bl6)"/>
<path d="M 805,355 L 490,860" stroke="#da5614" stroke-width="63.8" />
<path d="M 805,355 L 490,860" stroke="#f27a20" stroke-width="52.3" />
<path d="M 805,355 L 490,860" stroke="#fdb05e" stroke-width="28.1" filter="url(#bl6)"/>
</g></g>
<circle cx="1252.5" cy="696" r="136.5" fill="none" stroke="#000" stroke-width="3.6"/>
<path d="M 587,341 L 425.4,383.8 L 467.5,396.3 L 240,572.6 L 264.4,605.3 L 531.3,413.4 L 578,422.5 Z" fill="url(#goodg)"/>
<text transform="translate(417.5,466.5) rotate(-36.5)" text-anchor="middle" font-size="37" fill="#fff" stroke="#fff" stroke-width="1.1" y="13.3" textLength="170" lengthAdjust="spacingAndGlyphs">GOOD</text>
<path d="M 586,761 L 566,674 L 519,705 L 431,680 L 350,656 L 285,637 L 275,672 L 344,702 L 452,749 L 407,782 Z" fill="url(#badg)"/>
<text transform="translate(398,696) rotate(16) skewX(-27)" text-anchor="middle" font-size="39" fill="#fff" stroke="#fff" stroke-width="0.9" y="14" textLength="98" lengthAdjust="spacingAndGlyphs">BAD</text>
<text x="697.0" y="74.0" font-size="40" fill="#000" stroke="#000" stroke-width="0.9" font-weight="normal" textLength="517.0" lengthAdjust="spacingAndGlyphs">Good and Bad Bacterial Flora</text>
<text x="596.1" y="419.8" font-size="17.5" fill="#1f4e8f" stroke="#1f4e8f" stroke-width="0.3" font-weight="normal" textLength="134.8" lengthAdjust="spacingAndGlyphs">BIFIDOBACTERIA</text>
<text x="526.8" y="440.1" font-size="17" fill="#111" stroke="#111" stroke-width="0.4" font-weight="normal" textLength="268.7" lengthAdjust="spacingAndGlyphs">The various strains help to regulate</text>
<text x="531.0" y="461.0" font-size="17" fill="#111" stroke="#111" stroke-width="0.4" font-weight="normal" textLength="259.3" lengthAdjust="spacingAndGlyphs">levels of other bacteria in the gut,</text>
<text x="542.5" y="481.8" font-size="17" fill="#111" stroke="#111" stroke-width="0.4" font-weight="normal" textLength="236.7" lengthAdjust="spacingAndGlyphs">modulate immune responses to</text>
<text x="550.9" y="502.6" font-size="17" fill="#111" stroke="#111" stroke-width="0.4" font-weight="normal" textLength="219.4" lengthAdjust="spacingAndGlyphs">invading pathogens, prevent</text>
<text x="577.2" y="523.3" font-size="17" fill="#111" stroke="#111" stroke-width="0.4" font-weight="normal" textLength="166.9" lengthAdjust="spacingAndGlyphs">tumour formation and</text>
<text x="596.1" y="544.3" font-size="17" fill="#111" stroke="#111" stroke-width="0.4" font-weight="normal" textLength="134.3" lengthAdjust="spacingAndGlyphs">produce vitamins.</text>
<text x="880.2" y="419.8" font-size="17.5" fill="#1f4e8f" stroke="#1f4e8f" stroke-width="0.3" font-weight="normal" textLength="155.1" lengthAdjust="spacingAndGlyphs">ESCHERICHIA COLI</text>
<text x="815.1" y="440.1" font-size="17" fill="#111" stroke="#111" stroke-width="0.4" font-weight="normal" textLength="280.1" lengthAdjust="spacingAndGlyphs">Several types inhabit the human gut.</text>
<text x="819.3" y="461.0" font-size="17" fill="#111" stroke="#111" stroke-width="0.4" font-weight="normal" textLength="271.2" lengthAdjust="spacingAndGlyphs">They are involved in the production</text>
<text x="827.0" y="481.8" font-size="17" fill="#111" stroke="#111" stroke-width="0.4" font-weight="normal" textLength="256.2" lengthAdjust="spacingAndGlyphs">of vitamin K2 (essential for blood</text>
<text x="856.4" y="502.6" font-size="17" fill="#111" stroke="#111" stroke-width="0.4" font-weight="normal" textLength="197.4" lengthAdjust="spacingAndGlyphs">clotting) and help to keep</text>
<text x="868.6" y="523.3" font-size="17" fill="#111" stroke="#111" stroke-width="0.4" font-weight="normal" textLength="172.6" lengthAdjust="spacingAndGlyphs">bad bacteria in check.</text>
<text x="820.1" y="544.3" font-size="17" fill="#111" stroke="#111" stroke-width="0.4" font-weight="normal" textLength="270.4" lengthAdjust="spacingAndGlyphs">But some strains can lead to illness.</text>
<text x="1195.7" y="419.8" font-size="17.5" fill="#1f4e8f" stroke="#1f4e8f" stroke-width="0.3" font-weight="normal" textLength="112.1" lengthAdjust="spacingAndGlyphs">LACTOBACILLI</text>
<text x="1145.7" y="440.1" font-size="17" fill="#111" stroke="#111" stroke-width="0.4" font-weight="normal" textLength="212.0" lengthAdjust="spacingAndGlyphs">Beneficial varieties produce</text>
<text x="1139.4" y="461.0" font-size="17" fill="#111" stroke="#111" stroke-width="0.4" font-weight="normal" textLength="219.4" lengthAdjust="spacingAndGlyphs">vitamins and nutrients, boost</text>
<text x="1168.4" y="481.8" font-size="17" fill="#111" stroke="#111" stroke-width="0.4" font-weight="normal" textLength="161.6" lengthAdjust="spacingAndGlyphs">immunity and protect</text>
<text x="1173.0" y="502.6" font-size="17" fill="#111" stroke="#111" stroke-width="0.4" font-weight="normal" textLength="157.5" lengthAdjust="spacingAndGlyphs">against carcinogens.</text>
<text x="589.0" y="863.2" font-size="17.5" fill="#d9232e" stroke="#d9232e" stroke-width="0.3" font-weight="normal" textLength="144.1" lengthAdjust="spacingAndGlyphs">CAMPYLOBACTER</text>
<text x="513.9" y="884.4" font-size="17" fill="#111" stroke="#111" stroke-width="0.4" font-weight="normal" textLength="299.4" lengthAdjust="spacingAndGlyphs">C Jejuni and C coli are the strains most</text>
<text x="500.6" y="904.9" font-size="17" fill="#111" stroke="#111" stroke-width="0.4" font-weight="normal" textLength="325.8" lengthAdjust="spacingAndGlyphs">commonly associated with human disease.</text>
<text x="525.3" y="925.5" font-size="17" fill="#111" stroke="#111" stroke-width="0.4" font-weight="normal" textLength="276.6" lengthAdjust="spacingAndGlyphs">Infection usually occurs throught the</text>
<text x="541.1" y="946.0" font-size="17" fill="#111" stroke="#111" stroke-width="0.4" font-weight="normal" textLength="243.7" lengthAdjust="spacingAndGlyphs">ingestion of contaminated food.</text>
<text x="843.8" y="863.2" font-size="17.5" fill="#d9232e" stroke="#d9232e" stroke-width="0.3" font-weight="normal" textLength="223.0" lengthAdjust="spacingAndGlyphs">ENTEROCOCCUS FAECALIS</text>
<text x="879.5" y="884.4" font-size="17" fill="#111" stroke="#111" stroke-width="0.4" font-weight="normal" textLength="151.7" lengthAdjust="spacingAndGlyphs">A common cause of</text>
<text x="868.6" y="904.9" font-size="17" fill="#111" stroke="#111" stroke-width="0.4" font-weight="normal" textLength="177.3" lengthAdjust="spacingAndGlyphs">post-surgical infections.</text>
<text x="1152.8" y="863.2" font-size="17.5" fill="#d9232e" stroke="#d9232e" stroke-width="0.3" font-weight="normal" textLength="192.8" lengthAdjust="spacingAndGlyphs">CLOSTRIDIUM DIFFICILE</text>
<text x="1115.0" y="884.4" font-size="17" fill="#111" stroke="#111" stroke-width="0.4" font-weight="normal" textLength="273.8" lengthAdjust="spacingAndGlyphs">Most harmfull following a course of</text>
<text x="1099.5" y="904.9" font-size="17" fill="#111" stroke="#111" stroke-width="0.4" font-weight="normal" textLength="303.9" lengthAdjust="spacingAndGlyphs">antibiotics when it is able to proliferate.</text>
</svg>
</body></html>
